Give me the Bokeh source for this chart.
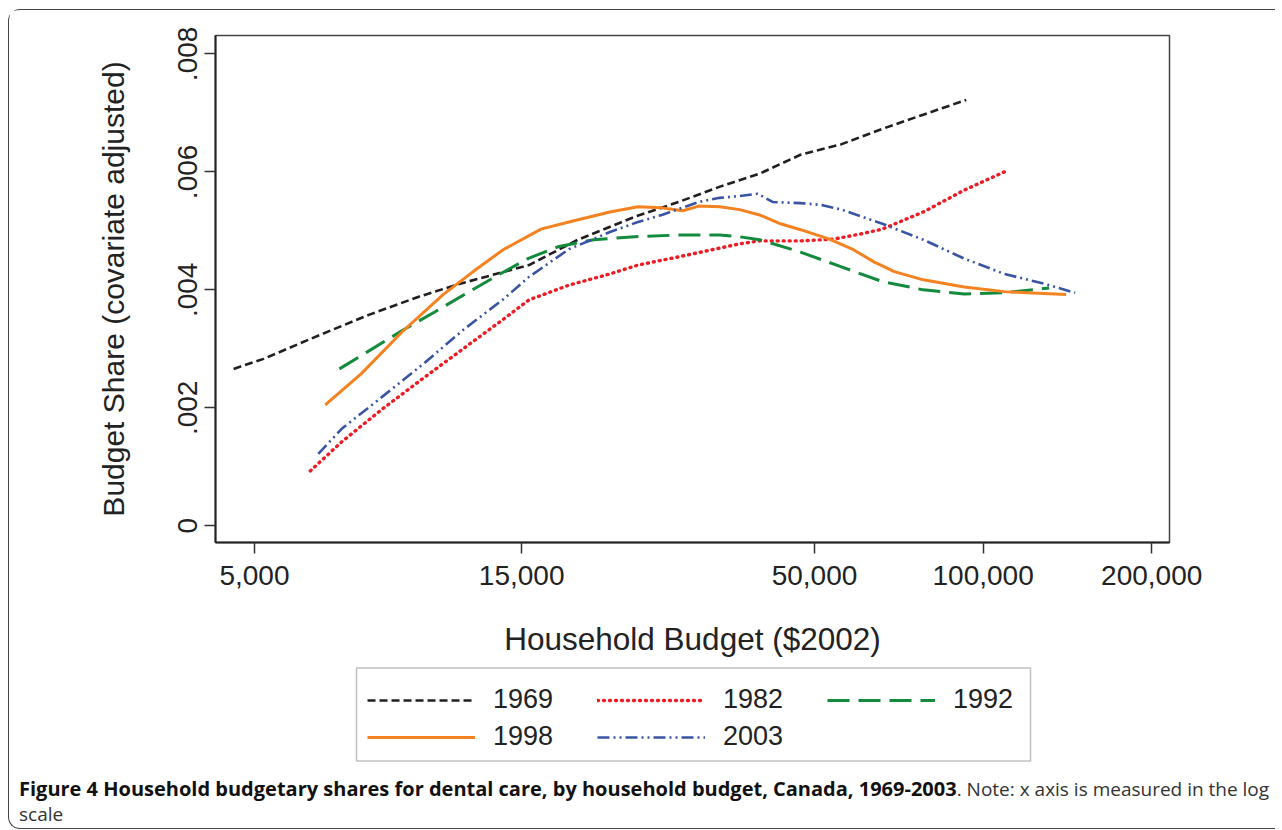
from bokeh.plotting import figure
from bokeh.models import (Legend, LegendItem, FixedTicker, NumeralTickFormatter, Div, Range1d,
                          BoxAnnotation)
from bokeh.layouts import column
from bokeh.embed import file_html
from bokeh.resources import INLINE

# ---- data ----
budget_1969 = [4590, 5190, 6560, 8020, 9800, 11600, 15460, 18900, 23900, 28600, 33900,
               39900, 47200, 55900, 66100, 78200, 93300]
share_1969 = [0.00266, 0.00283, 0.00324, 0.00358, 0.00388, 0.00410, 0.00442, 0.00485, 0.00524,
              0.00549, 0.00575, 0.00597, 0.00629, 0.00647, 0.00673, 0.00697, 0.00722]

budget_1982 = [6290, 7150, 8460, 9970, 11790, 13950, 15460, 18220, 21560, 24190, 28620, 36760,
               39900, 47210, 54060, 60650, 66100, 78200, 92550, 110900]
share_1982 = [0.00093, 0.00142, 0.00198, 0.00249, 0.00300, 0.00351, 0.00383, 0.00408, 0.00427,
              0.00442, 0.00456, 0.00478, 0.00483, 0.00483, 0.00486, 0.00495, 0.00503, 0.00532,
              0.00569, 0.00603]

budget_1992 = [7090, 8020, 9180, 10510, 11990, 13610, 15390, 17410, 20190, 23880, 28620, 33860,
               36760, 39900, 47210, 55850, 66100, 78200, 92550, 109100, 131200]
share_1992 = [0.00266, 0.00297, 0.00331, 0.00363, 0.00395, 0.00425, 0.00453, 0.00473, 0.00485,
              0.00490, 0.00493, 0.00493, 0.00490, 0.00485, 0.00464, 0.00439, 0.00414, 0.00400,
              0.00393, 0.00395, 0.00403]

budget_1998 = [6690, 7760, 9180, 10860, 12290, 13900, 16240, 18220, 21560, 24190, 26690, 29090,
               31060, 33860, 36760, 39900, 43490, 47210, 53170, 58680, 63970, 69430, 78200,
               92550, 109100, 140700]
share_1998 = [0.00205, 0.00258, 0.00329, 0.00392, 0.00431, 0.00468, 0.00503, 0.00515, 0.00532,
              0.00541, 0.00539, 0.00534, 0.00542, 0.00541, 0.00536, 0.00527, 0.00512, 0.00502,
              0.00486, 0.00468, 0.00447, 0.00431, 0.00417, 0.00405, 0.00397, 0.00392]

budget_2003 = [6500, 7150, 8460, 9970, 11790, 13950, 15460, 18220, 21560, 24190, 26690, 31060,
               33860, 36760, 39570, 42080, 47210, 51450, 55850, 66100, 78200, 92550, 109100,
               129000, 146000]
share_2003 = [0.00122, 0.00164, 0.00219, 0.00273, 0.00332, 0.00385, 0.00422, 0.00469, 0.00498,
              0.00515, 0.00527, 0.00549, 0.00556, 0.00559, 0.00563, 0.00549, 0.00547, 0.00544,
              0.00536, 0.00512, 0.00485, 0.00453, 0.00427, 0.00410, 0.00395]

x_ticks = [5000, 15000, 50000, 100000, 200000]
y_ticks = [0, 0.002, 0.004, 0.006, 0.008]
y_tick_labels = ["0", ".002", ".004", ".006", ".008"]
series_names = ["1969", "1982", "1992", "1998", "2003"]

FONT = "Liberation Sans"
TXT = "#222222"
W = 1256
FRAME_W = 954
LEG_H = 105

styles = [
    dict(line_color="#231f20", line_width=2.6, line_dash="8 4"),
    dict(line_color="#ed1c24", line_width=3.4, line_dash="1 5", line_cap="round"),
    dict(line_color="#138a3c", line_width=3, line_dash="22 9"),
    dict(line_color="#f58220", line_width=3, line_join="round"),
    dict(line_color="#3a54a4", line_width=2.6, line_dash="12 4 2 4 2 4"),
]
xs = [budget_1969, budget_1982, budget_1992, budget_1998, budget_2003]
ys = [share_1969, share_1982, share_1992, share_1998, share_2003]

# ---------------- main chart ----------------
p = figure(width=W, height=655, x_axis_type="log",
           x_range=Range1d(4260, 215200), y_range=Range1d(-0.000283, 0.008312),
           output_backend="svg", toolbar_location=None,
           min_border_left=206, min_border_right=W - 206 - FRAME_W, min_border_top=25,
           min_border_bottom=123)

p.xgrid.visible = False
p.ygrid.visible = False
p.outline_line_color = "#444444"
p.outline_line_width = 1.5
p.background_fill_color = "white"
p.border_fill_color = "white"

for xv, yv, st in zip(xs, ys, styles):
    p.line(xv, yv, **st)

xa = p.xaxis[0]
xa.ticker = FixedTicker(ticks=x_ticks)
xa.formatter = NumeralTickFormatter(format="0,0")
xa.minor_tick_line_color = None
xa.major_tick_in = 0
xa.major_tick_out = 11
xa.major_tick_line_width = 1.5
xa.major_tick_line_color = "#333333"
xa.axis_line_width = 2
xa.axis_line_color = "#222222"
xa.major_label_text_font = FONT
xa.major_label_text_font_size = "28px"
xa.major_label_text_color = TXT
xa.major_label_standoff = 12
xa.axis_label = "Household Budget ($2002)"
xa.axis_label_text_font = FONT
xa.axis_label_text_font_size = "31.5px"
xa.axis_label_text_font_style = "normal"
xa.axis_label_text_color = TXT
xa.axis_label_standoff = 33

ya = p.yaxis[0]
ya.ticker = FixedTicker(ticks=y_ticks)
ya.major_label_overrides = {t: l for t, l in zip(y_ticks, y_tick_labels)}
ya.major_label_orientation = "vertical"
ya.minor_tick_line_color = None
ya.major_tick_in = 0
ya.major_tick_out = 11
ya.major_tick_line_width = 1.5
ya.major_tick_line_color = "#333333"
ya.axis_line_width = 2
ya.axis_line_color = "#222222"
ya.major_label_text_font = FONT
ya.major_label_text_font_size = "28px"
ya.major_label_text_color = TXT
ya.major_label_standoff = 7
ya.axis_label = "Budget Share (covariate adjusted)"
ya.axis_label_text_font = FONT
ya.axis_label_text_font_size = "30px"
ya.axis_label_text_font_style = "normal"
ya.axis_label_text_color = TXT
ya.axis_label_standoff = 46

# ---------------- legend strip (same series, drawn off-range so only the legend shows) ----
lf = figure(width=W, height=LEG_H, output_backend="svg", toolbar_location=None,
            min_border=0, x_range=Range1d(0, FRAME_W), y_range=Range1d(0, LEG_H))
lf.axis.visible = False
lf.xgrid.visible = False
lf.ygrid.visible = False
lf.outline_line_color = None
lf.background_fill_color = "white"
lf.border_fill_color = "white"

legend_renderers = [lf.line(xv, yv, **st) for xv, yv, st in zip(xs, ys, styles)]
legend = Legend(
    items=[LegendItem(label=n, renderers=[r]) for n, r in zip(series_names, legend_renderers)],
    orientation="horizontal", ncols=3, location=(141, 6),
    glyph_width=108, glyph_height=20, label_standoff=18, label_width=100, label_height=33,
    spacing=4, padding=11, margin=0,
    border_line_alpha=0, background_fill_alpha=0,
    label_text_font=FONT, label_text_font_size="27px", label_text_color=TXT,
)
lf.add_layout(legend)
lf.add_layout(BoxAnnotation(left=141, right=815, bottom=9.5, top=102.5,
                            fill_alpha=0, line_color="#333333", line_width=1.5))

# ---------------- caption ----------------
caption = Div(
    text=('<div style="font-family:\'Open Sans\'; line-height:23px; '
          'padding:2px 0 0 5px; white-space:nowrap; color:#333;">'
          '<b style="color:#111; font-size:20px;">Figure 4 Household budgetary shares for dental '
          'care, by household budget, Canada, 1969-2003</b><span style="font-size:19px;">. '
          'Note: x axis is measured in the log<br>scale</span></div>'),
    width=W, height=48,
)

layout = column(p, lf, caption, spacing=0,
                styles={"border-left": "1.5px solid #444", "border-top": "1.5px solid #444",
                        "border-bottom": "1.5px solid #444",
                        "border-top-left-radius": "12px", "border-bottom-left-radius": "12px",
                        "margin-left": "8px", "margin-top": "9px", "background-color": "white"})

open("out.html", "w").write(file_html(layout, INLINE))
